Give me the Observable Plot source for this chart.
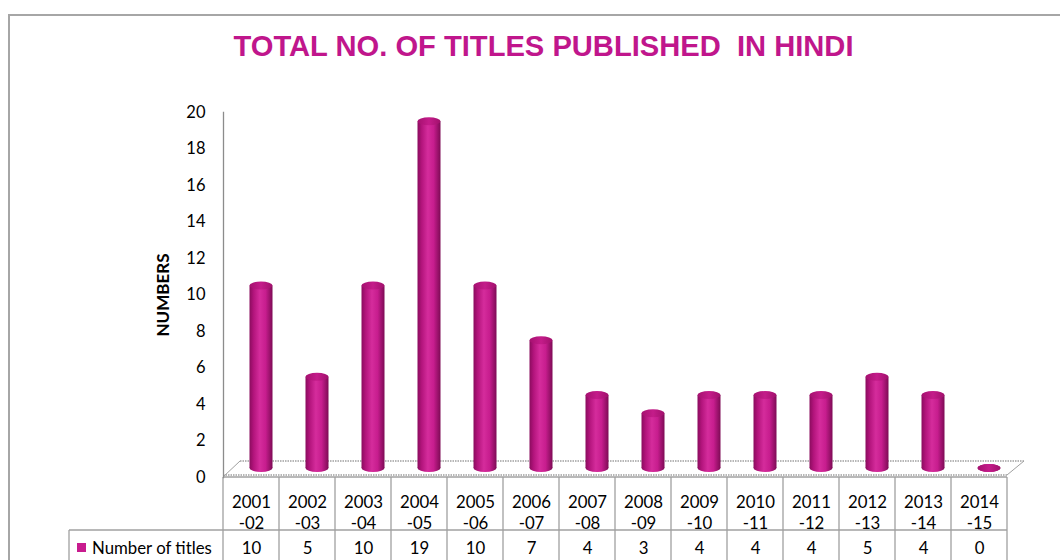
<!DOCTYPE html>
<html>
<head>
<meta charset="utf-8">
<script src="https://cdn.jsdelivr.net/npm/d3@7"></script>
<script src="https://cdn.jsdelivr.net/npm/@observablehq/plot@0.6"></script>
<style>
  html, body { margin: 0; padding: 0; background: #fff; }
  #wrap { position: relative; width: 1060px; height: 560px; overflow: hidden; background: #fff; }
  #border { position: absolute; left: 8px; top: 14px; width: 1200px; height: 700px; border: 2px solid #a6a6a6; box-sizing: border-box; }
  #chart { position: absolute; left: 0; top: 0; }
</style>
</head>
<body>
<div id="wrap"><div id="border"></div><div id="chart"></div></div>
<script>
const categories = ["2001-02","2002-03","2003-04","2004-05","2005-06","2006-07","2007-08","2008-09","2009-10","2010-11","2011-12","2012-13","2013-14","2014-15"];
const values = [10, 5, 10, 19, 10, 7, 4, 3, 4, 4, 4, 5, 4, 0];
const yTicks = [0, 2, 4, 6, 8, 10, 12, 14, 16, 18, 20];
const seriesName = "Number of titles";
const titleText = "TOTAL NO. OF TITLES PUBLISHED  IN HINDI";
const yLabel = "NUMBERS";

const data = categories.map((c, i) => ({cat: c, value: values[i]}));

const magenta = "#c0168c";
const gridGray = "#a0a0a0";
const font = "Lato, 'Open Sans', sans-serif";

// depth offsets for pseudo-3D
const DX = 10, DY = -9;

// Table grid, floor, legend drawn from the scales
function tableMark(index, scales, vals, dims) {
  const ns = "http://www.w3.org/2000/svg";
  const g = document.createElementNS(ns, "g");
  const x = scales.x, y = scales.y;
  const bw = x.bandwidth();
  const left = x(categories[0]);
  const right = x(categories[categories.length - 1]) + bw;
  const y0 = y(0);
  const rowSplit = y0 + 53;
  const bottom = dims.height + 5;
  const legendLeft = left - 154;
  const line = (x1, y1, x2, y2, extra) => {
    const l = document.createElementNS(ns, "line");
    l.setAttribute("x1", x1); l.setAttribute("y1", y1);
    l.setAttribute("x2", x2); l.setAttribute("y2", y2);
    l.setAttribute("stroke", gridGray);
    l.setAttribute("stroke-width", extra && extra.w ? extra.w : 1.3);
    if (extra && extra.dash) l.setAttribute("stroke-dasharray", extra.dash);
    g.appendChild(l);
  };
  // floor (dotted parallelogram)
  const fy = y0 - 2, by = y0 - 16, fdx = 17;
  line(left, fy, right, fy, {dash: "1.5,1", w: 1.5});
  line(left + fdx, by, right + fdx, by, {dash: "1.5,1", w: 1.5});
  line(left, fy + 2, left + fdx, by, {w: 1});
  line(right, fy, right + fdx, by, {w: 1});
  // table
  line(left, y0, right, y0);
  line(legendLeft, rowSplit, right, rowSplit);
  categories.forEach(c => line(x(c), y0, x(c), bottom));
  line(right, y0, right, bottom);
  line(legendLeft, rowSplit, legendLeft, bottom);
  // legend swatch + label
  const r = document.createElementNS(ns, "rect");
  r.setAttribute("x", legendLeft + 8); r.setAttribute("y", rowSplit + 13);
  r.setAttribute("width", 9); r.setAttribute("height", 9);
  r.setAttribute("fill", "#c81b8e");
  g.appendChild(r);
  const t = document.createElementNS(ns, "text");
  t.setAttribute("x", legendLeft + 23); t.setAttribute("y", rowSplit + 18);
  t.setAttribute("dy", "0.35em");
  t.setAttribute("font-size", 16.8);
  t.setAttribute("text-anchor", "start");
  t.setAttribute("font-family", font);
  t.setAttribute("fill", "#000");
  t.textContent = seriesName;
  g.appendChild(t);
  return g;
}

const plot = Plot.plot({
  width: 1060,
  height: 560,
  marginLeft: 223,
  marginRight: 53,
  marginTop: 112,
  marginBottom: 83,
  style: {fontFamily: font, fontSize: "16px", background: "transparent", overflow: "visible"},
  x: {domain: categories, padding: 0, axis: null},
  y: {domain: [0, 20], axis: null},
  marks: [
    tableMark,
    Plot.frame({anchor: "left", stroke: "#8c8c8c", strokeWidth: 1.3}),
    Plot.axisY(yTicks, {tickSize: 0, tickPadding: 18, fontSize: 16.5, fill: "#000", label: null}),
    Plot.text([yLabel], {frameAnchor: "left", textAnchor: "middle", dx: -60, rotate: -90, fontWeight: "bold", fontSize: 17, fill: "#000"}),
    // bottom caps
    Plot.barY(data, {x: "cat", y1: 0, y2: 0, insetTop: -4, insetBottom: -4, insetLeft: 16.5, insetRight: 16.5, rx: 11.5, ry: 4, fill: "url(#cylBody)", dx: DX, dy: DY}),
    // bodies
    Plot.barY(data, {x: "cat", y1: 0, y2: "value", insetLeft: 16.5, insetRight: 16.5, fill: "url(#cylBody)", dx: DX, dy: DY}),
    // top caps
    Plot.barY(data, {x: "cat", y1: "value", y2: "value", insetTop: -4, insetBottom: -4, insetLeft: 16.5, insetRight: 16.5, rx: 11.5, ry: 4, fill: "url(#cylTop)", dx: DX, dy: DY}),
    // table text
    Plot.text(categories, {x: d => d, text: d => d.replace("-", "\n-"), frameAnchor: "bottom", lineAnchor: "middle", dy: 34, lineHeight: 1.3, fontSize: 16.8, fill: "#000"}),
    Plot.text(data, {x: "cat", text: d => String(d.value), frameAnchor: "bottom", lineAnchor: "middle", dy: 71, fontSize: 16.8, fill: "#000"}),
    // title
    Plot.text([titleText], {frameAnchor: "top", lineAnchor: "middle", dx: -72, dy: -66, fontSize: 30, fontWeight: "bold", fontFamily: "'Liberation Sans', Arial, sans-serif", fill: magenta, className: "title-text"})
  ]
});

const svg = d3.select(plot);
svg.insert("defs", ":first-child").html(`
  <linearGradient id="cylBody" x1="0" x2="1" y1="0" y2="0">
    <stop offset="0%" stop-color="#8a0c5e"/>
    <stop offset="18%" stop-color="#b3147c"/>
    <stop offset="45%" stop-color="#d52c9c"/>
    <stop offset="70%" stop-color="#c71d8e"/>
    <stop offset="100%" stop-color="#7e0b55"/>
  </linearGradient>
  <linearGradient id="cylTop" x1="0" x2="1" y1="0" y2="0">
    <stop offset="0%" stop-color="#a5106f"/>
    <stop offset="50%" stop-color="#c41c8a"/>
    <stop offset="100%" stop-color="#a1106c"/>
  </linearGradient>
`);
svg.selectAll(".title-text text").attr("textLength", 620).attr("lengthAdjust", "spacingAndGlyphs");

document.getElementById("chart").appendChild(plot);
</script>
</body>
</html>
